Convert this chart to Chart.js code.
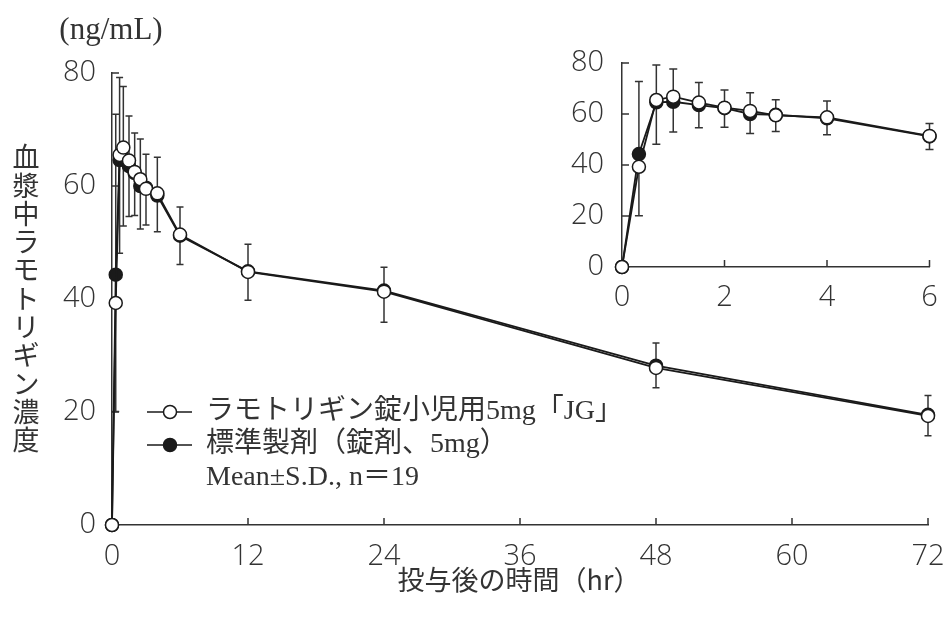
<!DOCTYPE html>
<html lang="ja">
<head>
<meta charset="utf-8">
<title>血漿中ラモトリギン濃度</title>
<script src="https://cdn.jsdelivr.net/npm/chart.js@4.4.1/dist/chart.umd.min.js"></script>
<style>
  html, body { margin: 0; padding: 0; background: #fff; }
  #wrap { position: relative; width: 947px; height: 619px; }
  #main { position: absolute; left: 0; top: 0; }
  #inset { position: absolute; left: 560px; top: 40px; }
</style>
</head>
<body>
<div id="wrap">
  <canvas id="main" width="947" height="619"></canvas>
  <canvas id="inset" width="387" height="290"></canvas>
</div>
<script>
// sampling times (hr) and mean concentrations (ng/mL)
const hours     = [0, 0.33, 0.67, 1, 1.5, 2, 2.5, 3, 4, 6, 12, 24, 48, 72];
const testMean  = [0, 39.3, 65.5, 66.8, 64.5, 62.5, 61.2, 59.5, 58.7, 51.4, 44.8, 41.3, 27.8, 19.3];
const testUpper = [0, 72.7, 79.2, 77.6, 72.4, 69.4, 68.3, 65.6, 65.1, 56.3, 49.7, 45.6, 32.2, 22.9];
const testLower = [0, 20.1, 48.1, 52.9, 54.6, 54.8, 52.4, 53.1, 51.9, 46.1, 39.8, 35.9, 24.3, 15.8];
const refMean   = [0, 44.3, 64.6, 64.8, 63.5, 62.3, 60.0, 59.7, 58.3, 51.2, 44.9, 41.5, 28.2, 19.5];

const xTicksMain  = [0, 12, 24, 36, 48, 60, 72];
const xTicksInset = [0, 2, 4, 6];
const yTicks      = [0, 20, 40, 60, 80];

const testLabel = 'ラモトリギン錠小児用5mg「JG」';
const refLabel  = '標準製剤（錠剤、5mg）';
const statLabel = 'Mean±S.D., n＝19';
const yTitle    = '血漿中ラモトリギン濃度';
const xTitle    = '投与後の時間（hr）';
const unitLabel = '(ng/mL)';

const INK = '#1a1a1a';
const GREY = '#333';
const tickFont = { family: '"Open Sans", "Noto Sans", sans-serif', size: 29, weight: 300 };
const textFont = '28px "Liberation Serif", "Noto Sans CJK JP", serif';
const jpFont = '27px "Noto Sans CJK JP", sans-serif';

// error bars of the test product, drawn under the points
const errorBars = {
    id: 'errorBars',
    beforeDatasetsDraw(chart, args, opts) {
        const { ctx, scales: { x, y } } = chart;
        ctx.save();
        ctx.strokeStyle = GREY;
        ctx.lineWidth = 1.5;
        hours.forEach((t, i) => {
            if (t === 0 || t > x.max) return;
            const px = x.getPixelForValue(t);
            const top = y.getPixelForValue(testUpper[i]);
            const bot = y.getPixelForValue(testLower[i]);
            const w = opts.cap || 4;
            ctx.beginPath();
            ctx.moveTo(px, top); ctx.lineTo(px, bot);
            ctx.moveTo(px - w, top); ctx.lineTo(px + w, top);
            ctx.moveTo(px - w, bot); ctx.lineTo(px + w, bot);
            ctx.stroke();
        });
        ctx.restore();
    }
};

// tick marks pointing into the plot
const innerTicks = {
    id: 'innerTicks',
    beforeDatasetsDraw(chart) {
        const { ctx, chartArea: a, scales: { x, y } } = chart;
        const len = 7;
        ctx.save();
        ctx.strokeStyle = GREY;
        ctx.lineWidth = 1.5;
        ctx.beginPath();
        x.ticks.forEach(t => {
            if (t.value === x.min) return;
            const px = x.getPixelForValue(t.value);
            ctx.moveTo(px, a.bottom); ctx.lineTo(px, a.bottom - len);
        });
        y.ticks.forEach(t => {
            if (t.value === y.min) return;
            const py = y.getPixelForValue(t.value);
            ctx.moveTo(a.left, py); ctx.lineTo(a.left + len, py);
        });
        ctx.stroke();
        ctx.restore();
    }
};

// titles, unit and legend of the main panel
const mainText = {
    id: 'mainText',
    afterDraw(chart) {
        const { ctx, chartArea: a } = chart;
        ctx.save();
        ctx.fillStyle = GREY;
        ctx.textBaseline = 'middle';
        ctx.textAlign = 'center';

        ctx.font = '31px "Liberation Serif", serif';
        ctx.fillText(unitLabel, 111, 31);

        ctx.font = jpFont;
        [...yTitle].forEach((ch, i) => ctx.fillText(ch, 26, 157 + i * 28.3));
        ctx.fillText(xTitle, 519, 580);

        // legend
        const lx = a.left + 35, ly = a.bottom - 113, step = 33;
        [[testLabel, '#fff'], [refLabel, INK]].forEach(([txt, fill], i) => {
            const yy = ly + i * step;
            ctx.strokeStyle = INK;
            ctx.lineWidth = 1.5;
            ctx.beginPath();
            ctx.moveTo(lx, yy); ctx.lineTo(lx + 45, yy);
            ctx.stroke();
            ctx.beginPath();
            ctx.arc(lx + 23, yy, 6.5, 0, Math.PI * 2);
            ctx.fillStyle = fill;
            ctx.fill();
            ctx.stroke();
            ctx.fillStyle = GREY;
            ctx.textAlign = 'left';
            ctx.font = textFont;
            ctx.fillText(txt, lx + 59, yy);
        });
        ctx.fillText(statLabel, lx + 59, ly + 2 * step);
        ctx.restore();
    }
};

function series(maxT) {
    const keep = hours.map((t, i) => i).filter(i => hours[i] <= maxT);
    const common = {
        borderColor: INK, borderWidth: 1.8, tension: 0, clip: false,
        pointRadius: 6.5, pointBorderColor: INK, pointBorderWidth: 1.5
    };
    return [
        { ...common, label: testLabel, pointBackgroundColor: '#fff',
          data: keep.map(i => ({ x: hours[i], y: testMean[i] })) },
        { ...common, label: refLabel, pointBackgroundColor: INK,
          data: keep.map(i => ({ x: hours[i], y: refMean[i] })) }
    ];
}

function axes(xMax, xTicks, yWidth, xHeight, yPad, xPad) {
    const base = {
        type: 'linear',
        grid: { drawOnChartArea: false, drawTicks: false },
        border: { color: GREY, width: 1.5 },
        ticks: { font: tickFont, color: GREY }
    };
    // keep label overhang from shrinking the plot area
    const noPad = s => { s.paddingLeft = s.paddingRight = s.paddingTop = s.paddingBottom = 0; };
    return {
        x: { ...base, min: 0, max: xMax,
             ticks: { ...base.ticks, padding: xPad },
             afterBuildTicks: s => { s.ticks = xTicks.map(v => ({ value: v })); },
             afterFit: s => { s.height = xHeight; noPad(s); } },
        y: { ...base, min: 0, max: 80,
             ticks: { ...base.ticks, padding: yPad },
             afterBuildTicks: s => { s.ticks = yTicks.map(v => ({ value: v })); },
             afterFit: s => { s.width = yWidth; noPad(s); } }
    };
}

new Chart(document.getElementById('main'), {
    type: 'line',
    data: { datasets: series(72) },
    options: {
        responsive: false,
        animation: false,
        layout: { autoPadding: false, padding: { left: 0, top: 73, right: 19, bottom: 0 } },
        plugins: { legend: { display: false }, tooltip: { enabled: false }, errorBars: { cap: 3.5 } },
        scales: axes(72, xTicksMain, 112, 94, 16, 14)
    },
    plugins: [innerTicks, errorBars, mainText]
});

new Chart(document.getElementById('inset'), {
    type: 'line',
    data: { datasets: series(6) },
    options: {
        responsive: false,
        animation: false,
        layout: { autoPadding: false, padding: { left: 0, top: 23, right: 17.5, bottom: 0 } },
        plugins: { legend: { display: false }, tooltip: { enabled: false }, errorBars: { cap: 4 } },
        scales: axes(6, xTicksInset, 62, 63, 18, 13)
    },
    plugins: [innerTicks, errorBars]
});
</script>
</body>
</html>
